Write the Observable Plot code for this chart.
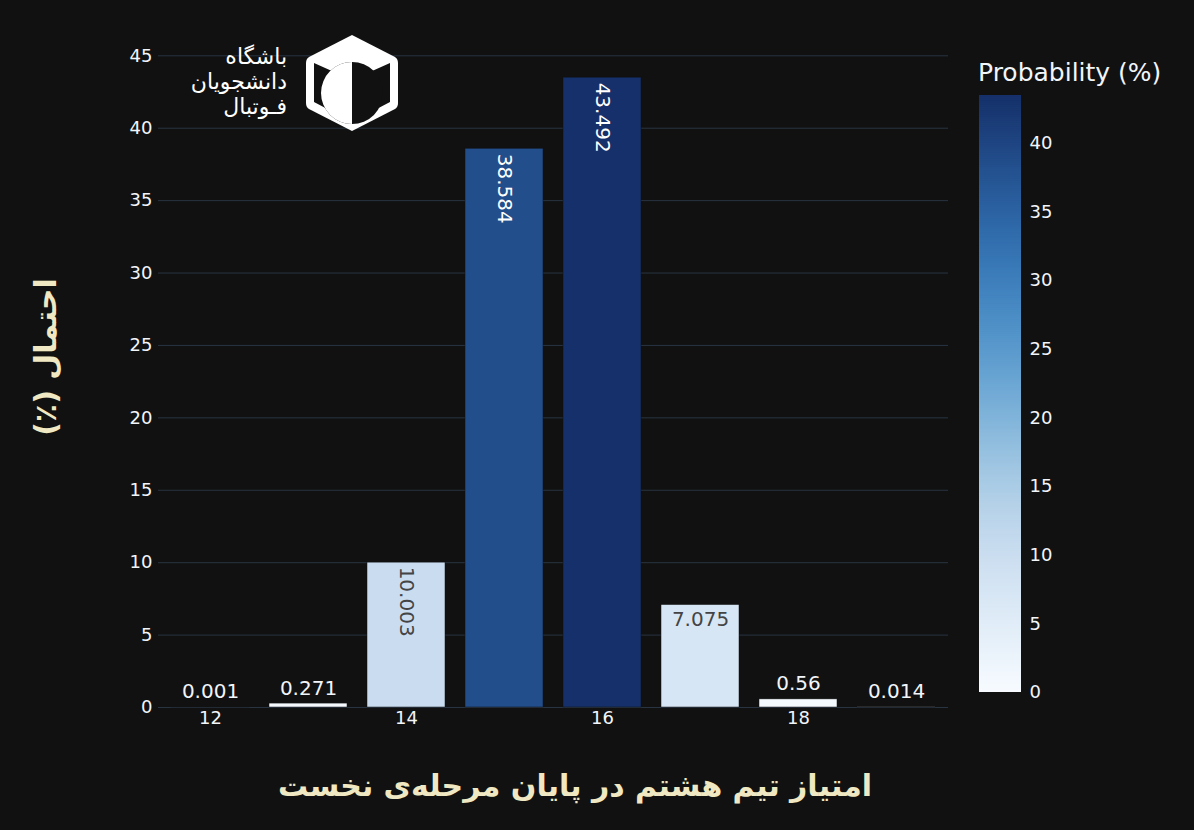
<!DOCTYPE html>
<html><head><meta charset="utf-8">
<script src="https://cdn.jsdelivr.net/npm/d3@7"></script>
<script src="https://cdn.jsdelivr.net/npm/@observablehq/plot@0.6"></script>
<style>
html,body{margin:0;padding:0;background:#111111;}
#wrap{position:relative;width:1194px;height:830px;background:#111111;overflow:hidden;font-family:"DejaVu Sans",sans-serif;}
.abs{position:absolute;}
#ytitle{left:45px;top:357px;transform:translate(-50%,-50%) rotate(-90deg);white-space:nowrap;font:bold 30px "DejaVu Sans",sans-serif;color:#efe8c2;}
#xtitle{left:575px;top:785px;transform:translate(-50%,-50%);white-space:nowrap;font:bold 30px "DejaVu Sans",sans-serif;color:#efe8c2;}
#cbtitle{left:978px;top:58px;white-space:nowrap;font:25px "DejaVu Sans",sans-serif;color:#f2f5fa;}
#logotext{right:907px;top:44px;text-align:right;font:22px "DejaVu Sans",sans-serif;color:#ffffff;line-height:25px;white-space:nowrap;}
#logo{left:303px;top:33px;}
</style></head><body>
<div id="wrap">
  <div id="main" class="abs" style="left:0;top:0"></div>
  <div id="cbar" class="abs" style="left:979px;top:0"></div>
  <div class="abs" id="ytitle" dir="rtl">احتمال (٪)</div>
  <div class="abs" id="xtitle" dir="rtl">امتیاز تیم هشتم در پایان مرحله‌ی نخست</div>
  <div class="abs" id="cbtitle">Probability (%)</div>
  <div class="abs" id="logotext" dir="rtl">باشگاه<br>دانشجویان<br>فـوتبال</div>
  <svg class="abs" id="logo" width="98" height="100" viewBox="0 0 98 100">
    <path d="M49 2 L92 24 Q95 26 95 30 L95 70 Q95 74 92 76 L49 98 L6 76 Q3 74 3 70 L3 30 Q3 26 6 24 Z" fill="#ffffff"/>
    <path d="M11 30 L49 47 L87 30 L87 69 L49 89 L11 69 Z" fill="#111111"/>
    <circle cx="49" cy="60" r="31" fill="#111111"/>
    <path d="M49 29 A31 31 0 0 0 49 91 Z" fill="#ffffff"/>
  </svg>
</div>
<script>
const points = [12, 13, 14, 15, 16, 17, 18, 19];
const probabilities = [0.001, 0.271, 10.003, 38.584, 43.492, 7.075, 0.56, 0.014];
const yTicks = [0, 5, 10, 15, 20, 25, 30, 35, 40, 45];
const xTicks = [12, 14, 16, 18];
const colorbarTicks = [0, 5, 10, 15, 20, 25, 30, 35, 40];
const blueStops = ["#f7fbff", "#deebf7", "#c8dbef", "#a2c8e2", "#70aad6", "#4a8ec6", "#3170b2", "#24518f", "#15306a"];

const data = points.map((p, i) => ({point: p, prob: probabilities[i]}));
const maxP = d3.max(probabilities);
const colorOpts = {type: "linear", domain: [0, maxP], interpolate: d3.interpolateRgbBasis(blueStops)};

const rotDark = data.filter(d => d.prob > 9 && d.prob < 20);
const rotLight = data.filter(d => d.prob >= 20);
const flatIn = data.filter(d => d.prob > 3 && d.prob <= 9);
const outside = data.filter(d => d.prob <= 3);
const lbl = d => String(d.prob);

const main = Plot.plot({
  width: 1194, height: 830,
  marginLeft: 158, marginRight: 246, marginTop: 44, marginBottom: 123,
  style: {background: "transparent", color: "#f2f5fa", fontFamily: "DejaVu Sans", fontSize: "18px"},
  x: {type: "band", domain: points, paddingInner: 0.2, paddingOuter: 0.1, ticks: xTicks, tickSize: 0, tickPadding: 4, label: null},
  y: {domain: [0, maxP * 1.0526], ticks: yTicks, tickSize: 0, tickPadding: 6, label: null},
  color: colorOpts,
  marks: [
    Plot.gridY(yTicks, {stroke: "#283442", strokeOpacity: 1, strokeWidth: 1}),
    Plot.barY(data, {x: "point", y: "prob", fill: "prob", stroke: "#111111", strokeWidth: 0.5}),
    Plot.text(rotLight, {x: "point", y: "prob", text: lbl, rotate: 90, textAnchor: "start", lineAnchor: "middle", dy: 5, fill: "#ffffff", fontSize: 20}),
    Plot.text(rotDark, {x: "point", y: "prob", text: lbl, rotate: 90, textAnchor: "start", lineAnchor: "middle", dy: 4, fill: "#444444", fontSize: 20}),
    Plot.text(flatIn, {x: "point", y: "prob", text: lbl, lineAnchor: "top", dy: 7, fill: "#444444", fontSize: 20}),
    Plot.text(outside, {x: "point", y: "prob", text: lbl, lineAnchor: "bottom", dy: -9, fill: "#f2f5fa", fontSize: 20})
  ]
});
document.getElementById("main").appendChild(main);

const stops = d3.range(0, 300);
const step = maxP / 300;
const cbar = Plot.plot({
  width: 215, height: 830,
  marginLeft: 0, marginRight: 173, marginTop: 95, marginBottom: 138,
  style: {background: "transparent", color: "#f2f5fa", fontFamily: "DejaVu Sans", fontSize: "18px"},
  y: {domain: [0, maxP], axis: "right", ticks: colorbarTicks, tickSize: 0, tickPadding: 8, label: null},
  color: colorOpts,
  marks: [
    Plot.rect(stops, {y1: i => i * step, y2: i => Math.min(maxP, (i + 1.6) * step), fill: i => (i + 0.5) * step})
  ]
});
document.getElementById("cbar").appendChild(cbar);
</script>
</body></html>
